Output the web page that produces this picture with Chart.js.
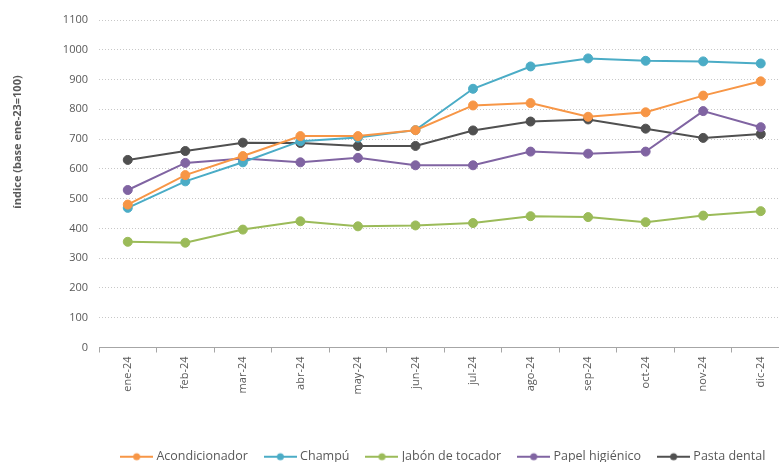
<!DOCTYPE html>
<html>
<head>
<meta charset="utf-8">
<script src="https://cdn.jsdelivr.net/npm/chart.js@4.4.1/dist/chart.umd.min.js"></script>
<style>
html,body{margin:0;padding:0;background:#fff;overflow:hidden;width:779px;height:462px;}
#wrap{position:absolute;left:0;top:0;width:795px;height:462px;}
</style>
</head>
<body>
<div id="wrap"><canvas id="c" width="795" height="462"></canvas></div>
<script>
const categories = ['ene-24','feb-24','mar-24','abr-24','may-24','jun-24','jul-24','ago-24','sep-24','oct-24','nov-24','dic-24'];
const acondicionador = [480, 579, 643, 710, 710, 730, 813, 821, 775, 790, 846, 894];
const champu = [469, 558, 622, 693, 705, 730, 869, 944, 971, 963, 961, 954];
const jabon = [355, 352, 396, 424, 407, 410, 418, 441, 438, 421, 443, 458];
const papel = [529, 620, 635, 622, 637, 612, 612, 658, 651, 658, 794, 740];
const pasta = [630, 660, 688, 687, 677, 677, 729, 759, 766, 735, 704, 717];
const seriesNames = ['Acondicionador','Champú','Jabón de tocador','Papel higiénico','Pasta dental'];
const yTitle = 'índice (base ene-23=100)';

const colors = ['#F79646','#4BACC6','#9BBB59','#8064A2','#505050'];
const allData = [acondicionador, champu, jabon, papel, pasta];
const textColor = '#595959';
const fontFam = '"Open Sans", Lato, sans-serif';

function legendIcon(color){
  const c = document.createElement('canvas');
  c.width = 33; c.height = 12;
  const g = c.getContext('2d');
  g.strokeStyle = color; g.lineWidth = 2;
  g.beginPath(); g.moveTo(0,6); g.lineTo(33,6); g.stroke();
  g.fillStyle = color;
  g.beginPath(); g.arc(16.5,6,3.5,0,Math.PI*2); g.fill();
  return c;
}
const icons = colors.map(legendIcon);

const datasets = allData.map((d,i)=>({
  label: seriesNames[i],
  data: d,
  borderColor: colors[i],
  backgroundColor: colors[i],
  pointBackgroundColor: colors[i],
  pointBorderColor: colors[i],
  borderWidth: 2,
  pointRadius: 4.5,
  pointBorderWidth: 1,
  pointHoverRadius: 4.5,
  tension: 0,
  fill: false
}));

const yTitlePlugin = {
  id: 'yTitlePlugin',
  afterDraw(chart){
    const ctx = chart.ctx;
    ctx.save();
    ctx.translate(18, 142);
    ctx.rotate(-Math.PI/2);
    ctx.font = 'bold 11px ' + fontFam;
    ctx.fillStyle = textColor;
    ctx.textAlign = 'center';
    ctx.textBaseline = 'middle';
    ctx.fillText(yTitle, 0, 0);
    ctx.restore();
  }
};

new Chart(document.getElementById('c'), {
  type: 'line',
  data: { labels: categories, datasets },
  plugins: [yTitlePlugin],
  options: {
    responsive: false,
    animation: false,
    layout: { padding: { top: 20, right: 0, bottom: -11, left: 0 } },
    plugins: {
      tooltip: { enabled: false },
      legend: {
        position: 'bottom',
        fullSize: false,
        labels: {
          usePointStyle: true,
          pointStyleWidth: 27,
          generateLabels(chart){
            return chart.data.datasets.map((ds,i)=>({
              text: ds.label,
              fillStyle: colors[i],
              strokeStyle: colors[i],
              pointStyle: icons[i],
              fontColor: textColor,
              hidden: false,
              datasetIndex: i,
              lineWidth: 0
            }));
          },
          color: textColor,
          font: { size: 12.5, family: fontFam },
          padding: 19
        }
      }
    },
    scales: {
      x: {
        offset: true,
        grid: { display: true, drawOnChartArea: false, offset: true, tickLength: 5, color: '#a6a6a6' },
        border: { display: true, color: '#a6a6a6', width: 1 },
        ticks: {
          color: textColor,
          font: { size: 11, family: fontFam },
          minRotation: 90, maxRotation: 90,
          padding: 4
        },
        afterFit(scale){ scale.height = 84; }
      },
      y: {
        min: 0, max: 1100,
        afterFit(scale){ scale.width = 99; },
        grid: { color: '#c8c8c8', borderDash: [1,2], drawTicks: false, tickLength: 0 },
        border: { display: false, dash: [1,2] },
        ticks: {
          stepSize: 100,
          color: textColor,
          font: { size: 11, family: fontFam },
          padding: 11,
          callback: (v) => String(v)
        }
      }
    }
  }
});
</script>
</body>
</html>
